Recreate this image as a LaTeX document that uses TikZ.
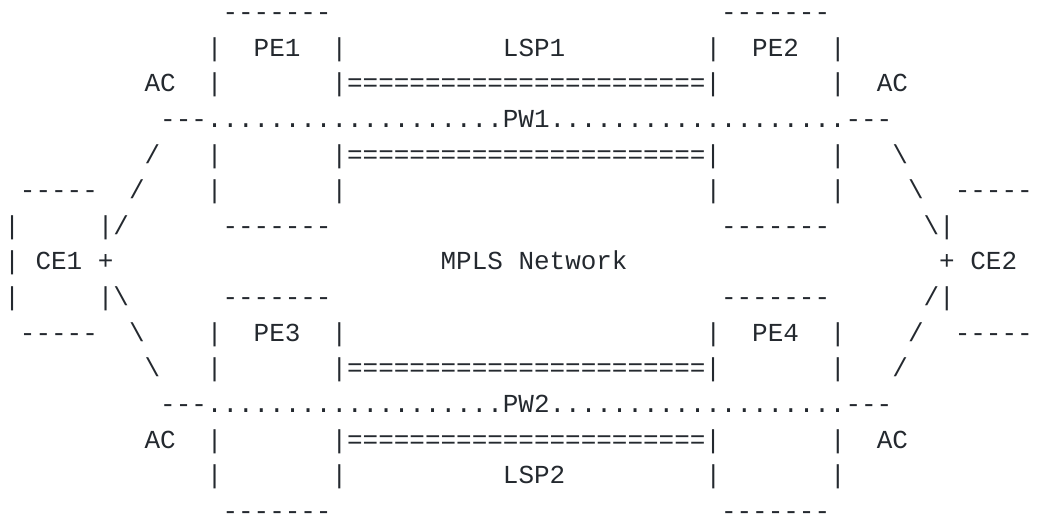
\documentclass[tikz,border=0pt]{standalone}
\usepackage{fontspec}
\setmonofont{Liberation Mono}
\definecolor{ink}{RGB}{36,41,47}
\tikzset{
  txt/.style={font=\ttfamily\fontsize{25.96}{30}\selectfont, text=ink, inner sep=0pt, outer sep=0pt, anchor=base west},
}
% place a run of characters at a character column and a text row
\newcommand\piece[4]{\node[txt] (#1) at ({4.4+15.58*#2},{425.3-35.66*(#3-3)}) {#4};}
\begin{document}
\begin{tikzpicture}[x=1pt,y=1pt]
\useasboundingbox (0,0) rectangle (1039,517);
% row 1
\piece{pe1top}{14}{1}{-------}
\piece{pe2top}{46}{1}{-------}
% row 2
\piece{pe1l2}{13}{2}{|}
\piece{pe1}{16}{2}{PE1}
\piece{pe1r2}{21}{2}{|}
\piece{lsp1}{32}{2}{LSP1}
\piece{pe2l2}{45}{2}{|}
\piece{pe2}{48}{2}{PE2}
\piece{pe2r2}{53}{2}{|}
% row 3
\piece{ac1}{9}{3}{AC}
\piece{pe1l3}{13}{3}{|}
\piece{lsp1a}{21}{3}{|=======================|}
\piece{pe2r3}{53}{3}{|}
\piece{ac2}{56}{3}{AC}
% row 4
\piece{pw1}{10}{4}{---...................PW1...................---}
% row 5
\piece{ac1s}{9}{5}{/}
\piece{pe1l5}{13}{5}{|}
\piece{lsp1b}{21}{5}{|=======================|}
\piece{pe2r5}{53}{5}{|}
\piece{ac2s}{57}{5}{\textbackslash}
% row 6
\piece{ce1top}{1}{6}{-----}
\piece{ac1s6}{8}{6}{/}
\piece{pe1l6}{13}{6}{|}
\piece{pe1r6}{21}{6}{|}
\piece{pe2l6}{45}{6}{|}
\piece{pe2r6}{53}{6}{|}
\piece{ac2s6}{58}{6}{\textbackslash}
\piece{ce2top}{61}{6}{-----}
% row 7
\piece{ce1l7}{0}{7}{|}
\piece{ce1r7}{6}{7}{|/}
\piece{pe1bot}{14}{7}{-------}
\piece{pe2bot}{46}{7}{-------}
\piece{ce2l7}{59}{7}{\textbackslash|}
% row 8
\piece{ce1l8}{0}{8}{|}
\piece{ce1}{2}{8}{CE1}
\piece{ce1plus}{6}{8}{+}
\piece{mpls}{28}{8}{MPLS Network}
\piece{ce2plus}{60}{8}{+}
\piece{ce2}{62}{8}{CE2}
% row 9
\piece{ce1l9}{0}{9}{|}
\piece{ce1r9}{6}{9}{|\textbackslash}
\piece{pe3top}{14}{9}{-------}
\piece{pe4top}{46}{9}{-------}
\piece{ce2l9}{59}{9}{/|}
% row 10
\piece{ce1bot}{1}{10}{-----}
\piece{ac3s10}{8}{10}{\textbackslash}
\piece{pe3l10}{13}{10}{|}
\piece{pe3}{16}{10}{PE3}
\piece{pe3r10}{21}{10}{|}
\piece{pe4l10}{45}{10}{|}
\piece{pe4}{48}{10}{PE4}
\piece{pe4r10}{53}{10}{|}
\piece{ac4s10}{58}{10}{/}
\piece{ce2bot}{61}{10}{-----}
% row 11
\piece{ac3s}{9}{11}{\textbackslash}
\piece{pe3l11}{13}{11}{|}
\piece{lsp2a}{21}{11}{|=======================|}
\piece{pe4r11}{53}{11}{|}
\piece{ac4s}{57}{11}{/}
% row 12
\piece{pw2}{10}{12}{---...................PW2...................---}
% row 13
\piece{ac3}{9}{13}{AC}
\piece{pe3l13}{13}{13}{|}
\piece{lsp2b}{21}{13}{|=======================|}
\piece{pe4r13}{53}{13}{|}
\piece{ac4}{56}{13}{AC}
% row 14
\piece{pe3l14}{13}{14}{|}
\piece{pe3r14}{21}{14}{|}
\piece{lsp2}{32}{14}{LSP2}
\piece{pe4l14}{45}{14}{|}
\piece{pe4r14}{53}{14}{|}
% row 15
\piece{pe3bot}{14}{15}{-------}
\piece{pe4bot}{46}{15}{-------}
\end{tikzpicture}
\end{document}
